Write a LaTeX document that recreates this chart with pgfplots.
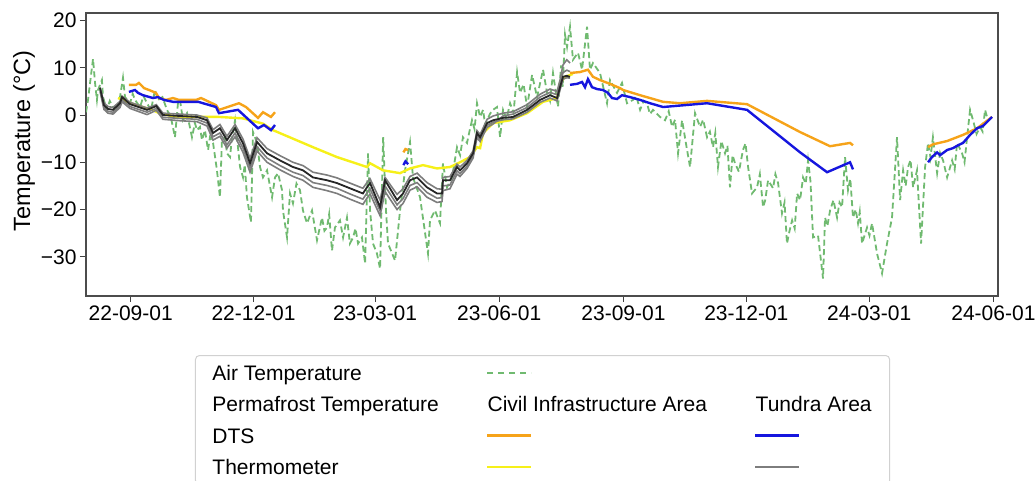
\documentclass[border=0pt]{standalone}
\usepackage{pgfplots}
\usepackage{pgfplotstable}
\pgfplotsset{compat=1.18}
\usepackage{fontspec}
\setmainfont{Liberation Sans}

\definecolor{airgreen}{RGB}{112,186,112}
\definecolor{dtsorange}{RGB}{246,163,25}
\definecolor{dtsblue}{RGB}{22,22,222}
\definecolor{thermoyellow}{RGB}{246,240,25}
\definecolor{thermogray}{RGB}{125,125,125}
\definecolor{thermodark}{RGB}{38,38,38}

% x = days since 2022-09-01
\pgfplotstableread{
d t
-33.1 0.6
-31.6 3.2
-30.1 6.8
-27.9 11.9
-26.4 6.8
-25.0 3.2
-24.2 5.3
-21.3 7.4
-20.5 3.8
-17.6 1.1
-15.5 3.0
-13.1 1.7
-10.5 0.8
-7.9 3.8
-5.7 7.9
-4.2 3.8
-0.5 2.5
1.5 4.5
3.2 3.2
6.9 1.7
9.5 4.0
12.1 2.5
15.0 1.0
18.0 5.3
20.2 3.2
23.5 3.8
26.9 1.1
29.8 -0.5
32.8 -4.7
35.0 2.5
36.5 3.2
38.7 -1.1
41.7 0.4
45.4 -4.7
47.6 -1.7
49.1 -3.2
51.3 -2.5
52.8 -5.3
55.0 -3.2
57.3 -7.4
58.7 -4.7
61.0 -5.9
63.9 -11.7
66.1 -17.4
67.6 -5.3
69.9 -4.7
71.3 -8.1
73.6 -8.9
75.0 -4.7
77.3 -1.1
78.7 -4.7
81.0 -11.0
83.2 -13.2
84.5 -10.5
86.1 -17.4
89.1 -22.7
90.6 -3.6
93.6 -5.9
95.8 -11.0
98.0 -13.2
101.0 -11.7
104.7 -17.4
106.9 -13.2
109.1 -12.3
112.1 -15.9
112.8 -20.2
115.8 -25.9
118.0 -16.6
120.2 -18.7
122.8 -14.5
125.4 -15.9
127.6 -20.2
130.6 -22.9
134.3 -20.2
138.0 -26.5
141.7 -21.7
143.5 -24.5
145.4 -23.8
147.0 -21.0
149.1 -28.7
151.3 -23.8
155.0 -22.3
157.3 -25.9
160.2 -21.7
162.4 -27.2
164.7 -25.9
166.5 -24.0
168.4 -27.2
171.3 -25.9
173.6 -31.4
175.8 -8.1
177.3 -20.2
179.5 -27.2
182.4 -29.3
184.7 -32.5
187.0 -4.7
189.1 -20.2
190.6 -27.2
195.8 -30.8
199.5 -20.2
203.2 -11.7
206.9 -5.7
209.1 -13.2
214.3 -17.4
220.2 -29.3
221.7 -22.3
225.4 -20.2
229.1 -22.9
231.3 -10.2
234.3 -15.3
238.0 -13.2
241.7 -6.8
244.0 -8.5
246.1 -4.7
249.1 -5.9
250.9 -3.5
252.8 -1.1
254.7 -3.0
256.5 2.5
258.8 -0.4
261.0 1.1
262.5 -2.0
264.0 -1.1
266.2 0.3
268.4 1.1
271.3 1.7
273.6 -4.7
275.8 1.1
278.4 -0.8
281.0 2.5
283.6 0.5
286.2 9.1
288.4 4.7
291.0 6.5
293.6 1.7
297.3 8.5
301.0 3.8
305.4 9.6
308.4 4.7
310.6 3.0
312.8 8.9
316.5 1.7
318.8 10.5
320.0 6.0
321.7 17.0
323.2 14.4
325.4 18.7
327.6 11.7
331.3 13.2
334.3 9.6
338.0 18.7
340.2 9.6
342.4 11.0
347.6 8.9
352.8 2.5
355.0 7.4
360.2 4.7
363.9 6.8
367.6 2.5
372.0 3.2
374.5 4.0
377.3 1.1
380.0 3.0
382.4 2.5
384.6 0.2
386.9 1.1
392.1 -0.4
395.8 -1.1
398.5 0.8
401.0 -2.5
403.2 -1.0
405.4 -8.1
408.4 -1.1
412.1 -7.4
414.3 -11.0
418.0 0.4
421.7 -2.5
424.0 -1.0
426.9 -4.7
429.0 -3.5
431.3 -6.8
433.0 -3.8
435.0 -11.0
437.5 -5.5
440.2 -8.1
442.0 -6.5
443.9 -15.3
445.8 -8.5
447.6 -10.2
450.5 -12.0
453.5 -7.4
455.4 -6.0
457.3 -11.0
460.2 -16.6
463.9 -15.3
466.0 -12.5
468.4 -19.5
470.0 -18.0
472.1 -13.8
475.8 -15.5
477.5 -12.5
479.5 -14.4
482.4 -20.8
484.3 -18.5
486.1 -27.2
488.0 -24.5
489.9 -22.3
491.8 -24.0
493.6 -16.6
495.8 -18.0
498.0 -13.2
500.0 -14.5
501.7 -9.6
503.5 -14.0
505.4 -25.9
509.1 -25.5
512.8 -34.6
514.3 -21.7
516.0 -23.5
518.0 -20.2
520.5 -18.0
523.2 -21.7
525.0 -18.5
526.9 -19.5
529.1 -8.9
531.3 -15.9
533.0 -13.5
535.0 -21.7
537.0 -20.0
538.7 -22.9
540.0 -20.5
541.7 -27.2
545.4 -23.8
547.2 -25.5
549.1 -22.9
552.8 -29.3
556.5 -33.5
560.2 -27.2
563.9 -21.7
567.6 -4.7
569.9 -18.0
572.1 -11.7
574.0 -15.0
575.8 -11.0
577.6 -9.5
579.5 -15.3
582.4 -11.7
585.4 -27.2
588.4 -11.0
590.6 -5.9
592.4 -9.0
594.2 -4.7
597.3 -12.3
599.5 -8.0
601.7 -9.6
604.7 -13.2
608.4 -9.6
610.3 -11.5
612.1 -5.9
615.8 -8.1
617.6 -10.0
619.5 -4.7
621.7 1.1
623.9 -1.1
626.5 -4.0
629.1 -2.5
631.0 -3.5
632.8 1.1
635.0 -1.1
}\airtemp

% tundra thermometers: k = main sensor, g1..g3 = neighbouring depths
\pgfplotstableread{
d k g1 g2 g3
-22.7 5.7 5.9 5.4 5.0
-19.8 2.1 2.6 1.6 1.2
-16.8 1.3 1.8 0.8 0.4
-13.1 1.1 1.6 0.6 0.2
-7.9 2.5 2.9 2.0 1.6
-6.4 3.8 4.0 3.2 2.8
-0.5 2.3 2.7 1.8 1.4
12.1 1.1 1.5 0.6 0.1
19.0 1.9 2.2 1.4 1.0
23.9 0.0 0.4 -0.5 -0.9
36.5 -0.2 0.2 -0.7 -1.2
49.1 -0.4 0.0 -0.9 -1.4
56.5 -1.1 -0.6 -1.7 -2.3
61.0 -3.8 -3.1 -4.6 -5.3
66.1 -2.8 -2.0 -3.8 -4.5
71.3 -5.3 -4.5 -6.3 -7.0
77.3 -2.8 -2.0 -3.8 -4.6
83.2 -6.0 -5.1 -7.0 -7.9
88.4 -10.2 -9.2 -11.2 -12.1
93.6 -5.7 -4.8 -6.7 -7.6
101.0 -8.1 -7.1 -9.1 -10.0
110.6 -9.6 -8.6 -10.7 -11.6
120.2 -11.0 -10.0 -12.1 -13.0
127.6 -11.7 -10.7 -12.8 -13.8
135.0 -13.2 -12.1 -14.3 -15.3
145.4 -13.8 -12.7 -14.9 -16.0
152.8 -14.4 -13.3 -15.5 -16.6
162.4 -15.5 -14.4 -16.7 -17.8
172.0 -16.6 -15.5 -17.8 -18.9
175.0 -15.3 -14.3 -16.5 -17.6
177.3 -14.4 -13.5 -15.6 -16.7
184.7 -19.5 -18.0 -20.3 -21.3
188.4 -13.8 -13.2 -15.0 -16.2
197.3 -18.0 -16.8 -19.0 -20.0
201.7 -16.6 -15.6 -17.7 -18.7
206.9 -13.8 -13.0 -14.9 -15.9
212.1 -13.2 -12.3 -14.3 -15.2
219.5 -15.3 -14.3 -16.4 -17.4
226.9 -16.6 -15.6 -17.6 -18.5
230.6 -16.6 -15.7 -17.5 -18.3
231.3 -13.8 -13.2 -15.0 -16.0
236.5 -13.8 -13.0 -14.8 -15.6
241.7 -11.0 -10.4 -11.8 -12.5
243.9 -11.7 -11.0 -12.4 -13.0
249.1 -10.2 -9.6 -10.8 -11.3
253.6 -8.1 -7.6 -8.6 -9.1
256.5 -3.8 -3.3 -4.3 -4.8
258.8 -4.7 -4.1 -5.2 -5.6
264.0 -1.7 -0.9 -2.2 -2.6
268.4 -1.1 -0.2 -1.5 -1.9
275.8 -0.6 0.4 -1.0 -0.2
283.2 -0.4 0.7 -0.8 0.2
293.6 1.1 2.2 0.6 1.6
303.2 3.2 4.4 2.7 3.8
310.6 4.2 5.5 3.6 4.8
315.8 3.6 5.0 3.0 4.3
318.0 5.9 7.4 5.3 6.5
320.2 8.1 10.6 7.6 9.0
323.0 8.3 11.7 7.9 9.5
325.4 8.1 11.0 7.8 9.2
}\tundrathermo

% civil infrastructure thermometer
\pgfplotstableread{
d t
-9.4 3.6
4.0 2.1
16.3 1.1
21.0 0.4
33.6 -0.4
48.4 -0.4
65.4 -0.4
83.0 -0.7
97.8 -1.8
105.4 -3.2
127.6 -5.9
135.0 -6.8
152.8 -8.9
175.0 -11.0
177.3 -10.2
186.9 -11.7
199.5 -12.3
206.9 -11.3
216.5 -10.6
226.9 -11.3
236.5 -11.0
243.9 -10.0
251.3 -8.9
256.5 -6.8
258.8 -7.0
261.0 -3.8
268.4 -1.7
281.0 -1.1
293.6 0.4
305.4 2.8
315.8 3.6
318.0 6.8
321.7 8.1
327.6 8.7
}\civilthermo

% DTS, civil infrastructure area (nan = no record)
\pgfplotstableread{
d t
-1.3 6.4
4.0 6.4
6.1 6.8
9.9 5.7
13.6 5.3
18.7 4.7
21.0 3.6
26.1 3.2
31.3 3.6
35.8 3.2
48.4 3.2
52.1 3.6
63.2 2.1
65.4 1.1
80.2 2.5
85.4 1.7
94.3 -0.6
98.0 0.6
103.9 -0.4
106.9 0.6
150.0 nan
202.0 -7.9
203.5 -7.2
205.5 -7.4
260.0 nan
325.4 8.9
332.8 9.1
338.7 9.6
342.4 8.1
347.6 7.4
355.0 6.6
362.4 5.7
364.7 5.3
377.3 4.2
394.3 2.8
406.9 2.5
426.9 3.0
456.5 2.3
495.8 -3.6
518.0 -6.6
532.8 -5.9
535.0 -6.4
560.0 nan
590.6 -6.8
594.2 -6.2
604.7 -5.5
616.5 -4.2
626.9 -2.8
638.0 -0.4
}\dtscivil

% DTS, tundra area
\pgfplotstableread{
d t
-1.3 4.9
3.2 5.3
5.4 4.7
9.1 4.2
16.5 3.6
20.2 3.8
24.6 3.2
31.3 2.8
50.0 2.8
63.2 1.7
65.4 0.4
79.5 1.1
94.3 -2.8
98.7 -2.1
103.9 -3.2
106.9 -2.1
150.0 nan
202.0 -10.6
203.5 -9.8
205.5 -10.4
260.0 nan
325.4 6.4
330.6 6.6
334.3 7.0
336.5 5.9
338.7 7.6
341.7 5.9
345.4 5.5
349.8 5.3
353.5 4.7
356.5 3.6
360.2 3.4
363.9 4.2
369.8 3.8
377.3 3.2
384.7 2.5
394.3 1.7
426.9 2.5
456.5 1.1
495.8 -7.9
515.8 -12.1
532.8 -10.0
535.0 -11.5
560.0 nan
590.6 -10.0
593.5 -8.9
597.3 -7.9
599.5 -8.5
604.7 -7.4
609.1 -7.0
612.8 -6.4
616.5 -5.9
621.7 -4.2
626.9 -2.8
631.3 -2.3
638.0 -0.4
}\dtstundra

\pgfplotsset{
  legtext/.style={legend image code/.code={%
    \node[anchor=west,inner sep=0pt,text height=15bp,text depth=0pt] at (0bp,0bp) {#1};}},
}

\begin{document}
\begin{tikzpicture}
\path[use as bounding box] (0,0) rectangle (1036bp,481bp);
\begin{axis}[
  at={(86bp,185bp)}, anchor=south west,
  scale only axis, width=912bp, height=283bp,
  xmin=-33.1, xmax=642.4, ymin=-38.3, ymax=21.6,
  xtick={0,91,181,273,365,456,547,639},
  xticklabels={22-09-01,22-12-01,23-03-01,23-06-01,23-09-01,23-12-01,24-03-01,24-06-01},
  ytick={-30,-20,-10,0,10,20},
  yticklabels={−30,−20,−10,0,10,20},
  xtick pos=bottom, ytick pos=left,
  tick align=outside, major tick length=6bp,
  tick style={black!75, line width=1bp},
  axis line style={black!70, line width=1.2bp},
  ticklabel style={font=\fontsize{21bp}{25bp}\selectfont},
  /pgf/number format/assume math mode=true,
  ylabel={Temperature (°C)},
  ylabel style={font=\fontsize{23.5bp}{28bp}\selectfont,
    at={(axis description cs:-0.068,0.548)}, anchor=center},
  unbounded coords=jump,
  legend columns=3,
  legend image code/.code={\draw[#1] (0bp,0bp) -- (44bp,0bp);},
  legend style={
    at={(axis description cs:0.1195,-0.2085)}, anchor=north west,
    draw=black!18, line width=1bp, rounded corners=4bp,
    inner xsep=17bp, inner ysep=10bp,
    font=\fontsize{21bp}{25bp}\selectfont,
    nodes={inner sep=0pt, text depth=0pt},
    row sep=16.3bp, column sep=0pt,
    /tikz/every even column/.append style={column sep=46bp},
  },
]
\addplot[airgreen, line width=1.8bp, dash pattern=on 6bp off 3.5bp, forget plot]
  table[x=d, y=t] {\airtemp};
\addplot[thermoyellow, line width=2.4bp, forget plot] table[x=d, y=t] {\civilthermo};
\addplot[thermogray, line width=1.6bp, forget plot] table[x=d, y=g1] {\tundrathermo};
\addplot[thermogray, line width=1.6bp, forget plot] table[x=d, y=g2] {\tundrathermo};
\addplot[thermogray, line width=1.6bp, forget plot] table[x=d, y=g3] {\tundrathermo};
\addplot[thermodark, line width=1.8bp, forget plot] table[x=d, y=k] {\tundrathermo};
\addplot[dtsorange, line width=2.4bp, forget plot] table[x=d, y=t] {\dtscivil};
\addplot[dtsblue, line width=2.4bp, forget plot] table[x=d, y=t] {\dtstundra};

% row 1
\addlegendimage{legtext={Air Temperature}}\addlegendentry{}
\addlegendimage{airgreen, line width=1.8bp, dash pattern=on 6bp off 5bp}\addlegendentry{}
\addlegendimage{empty legend}\addlegendentry{}
% row 2
\addlegendimage{legtext={Permafrost Temperature}}\addlegendentry{}
\addlegendimage{legtext={Civil Infrastructure Area}}\addlegendentry{}
\addlegendimage{legtext={Tundra Area}}\addlegendentry{}
% row 3
\addlegendimage{legtext={DTS}}\addlegendentry{}
\addlegendimage{dtsorange, line width=2.4bp}\addlegendentry{}
\addlegendimage{dtsblue, line width=2.4bp}\addlegendentry{}
% row 4
\addlegendimage{legtext={Thermometer}}\addlegendentry{}
\addlegendimage{thermoyellow, line width=2.4bp}\addlegendentry{}
\addlegendimage{thermogray, line width=2.4bp}\addlegendentry{}
\end{axis}
\end{tikzpicture}
\end{document}
